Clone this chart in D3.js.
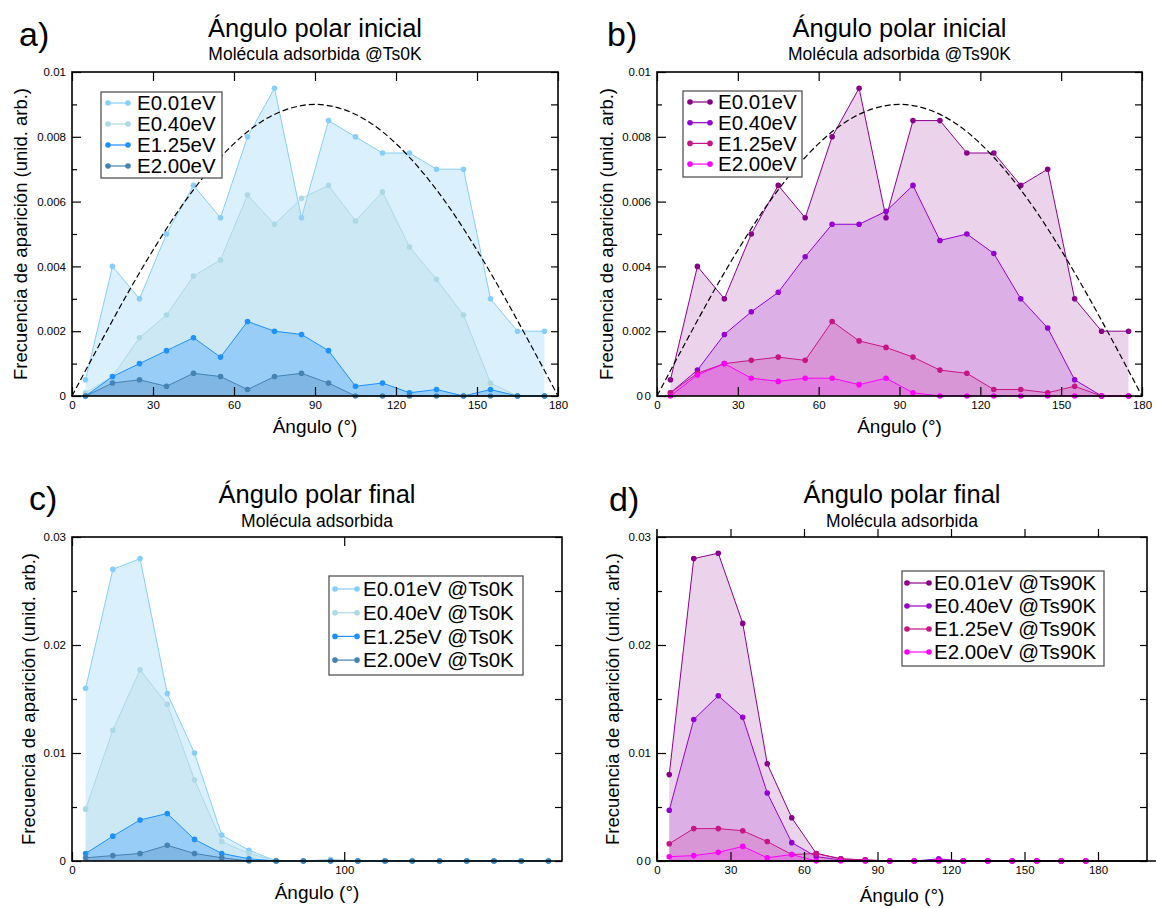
<!DOCTYPE html>
<html>
<head>
<meta charset="utf-8">
<script src="https://cdn.jsdelivr.net/npm/d3@7"></script>
<style>
  body { margin: 0; background: #fff; }
  text { font-family: "Liberation Sans", Arial, sans-serif; }
</style>
</head>
<body>
<script>
// bin centres (degrees)
const angles = [5, 15, 25, 35, 45, 55, 65, 75, 85, 95, 105, 115, 125, 135, 145, 155, 165, 175];
const energies = ["E0.01eV", "E0.40eV", "E1.25eV", "E2.00eV"];

// a) initial polar angle, Ts = 0 K
const iniTs0K_001 = [0.0005, 0.0040, 0.0030, 0.0050, 0.0065, 0.0055, 0.0080, 0.0095, 0.0055, 0.0085, 0.0080, 0.0075, 0.0075, 0.0070, 0.0070, 0.0030, 0.0020, 0.0020];
const iniTs0K_040 = [0.0001, 0.0006, 0.0018, 0.0025, 0.0037, 0.0042, 0.0062, 0.0053, 0.0061, 0.0065, 0.0054, 0.0063, 0.0046, 0.0036, 0.0025, 0.0004, 0, 0];
const iniTs0K_125 = [0, 0.0006, 0.0010, 0.0014, 0.0018, 0.0012, 0.0023, 0.0020, 0.0019, 0.0014, 0.0003, 0.0004, 0.0001, 0.0002, 0, 0.0002, 0, 0];
const iniTs0K_200 = [0, 0.0004, 0.0005, 0.0003, 0.0007, 0.0006, 0.0002, 0.0006, 0.0007, 0.0004, 0, 0, 0, 0, 0, 0, 0, 0];

// b) initial polar angle, Ts = 90 K
const iniTs90K_001 = [0.0005, 0.0040, 0.0030, 0.0050, 0.0065, 0.0055, 0.0080, 0.0095, 0.0055, 0.0085, 0.0085, 0.0075, 0.0075, 0.0065, 0.0070, 0.0030, 0.0020, 0.0020];
const iniTs90K_040 = [0.0001, 0.0008, 0.0019, 0.0026, 0.0032, 0.0043, 0.0053, 0.0053, 0.0057, 0.0065, 0.0048, 0.0050, 0.0044, 0.0030, 0.0021, 0.0005, 0, 0];
const iniTs90K_125 = [0.0001, 0.0007, 0.0010, 0.0011, 0.0012, 0.0011, 0.0023, 0.0017, 0.0015, 0.0012, 0.0008, 0.0007, 0.0002, 0.0002, 0.0001, 0.0003, 0, 0];
const iniTs90K_200 = [0, 0.00065, 0.0010, 0.00055, 0.00045, 0.00055, 0.00055, 0.00035, 0.00055, 0.0001, 0, 0, 0, 0, 0, 0, 0, 0];

// c) final polar angle, Ts = 0 K
const finTs0K_001 = [0.0160, 0.0270, 0.0280, 0.0155, 0.0100, 0.0024, 0.0010, 0, 0, 0.0001, 0, 0, 0, 0, 0, 0, 0, 0];
const finTs0K_040 = [0.0048, 0.0121, 0.0177, 0.0145, 0.0075, 0.0018, 0.0007, 0, 0, 0.00015, 0, 0, 0, 0, 0, 0, 0, 0];
const finTs0K_125 = [0.0007, 0.0023, 0.0038, 0.0044, 0.0020, 0.0007, 0.0002, 0, 0, 0, 0, 0, 0, 0, 0, 0, 0, 0];
const finTs0K_200 = [0.0003, 0.0005, 0.0007, 0.00145, 0.0007, 0.0003, 0, 0, 0, 0, 0, 0, 0, 0, 0, 0, 0, 0];

// d) final polar angle, Ts = 90 K
const finTs90K_001 = [0.0080, 0.0280, 0.0285, 0.0220, 0.0090, 0.0040, 0.0007, 0.0002, 0.0001, 0, 0, 0.0001, 0, 0, 0, 0, 0, 0];
const finTs90K_040 = [0.0047, 0.0131, 0.0153, 0.0133, 0.0063, 0.0017, 0.0004, 0.0001, 0, 0, 0, 0.0002, 0, 0, 0, 0, 0, 0];
const finTs90K_125 = [0.0016, 0.0030, 0.0030, 0.0028, 0.0018, 0.0006, 0.0007, 0.0002, 0.0001, 0, 0, 0, 0, 0, 0, 0, 0, 0];
const finTs90K_200 = [0.0004, 0.0005, 0.0008, 0.00135, 0.0003, 0.0006, 0, 0, 0, 0, 0, 0, 0, 0, 0, 0, 0, 0];

// dashed reference curve (read at every 10 degrees)
const refAngles = [0, 10, 20, 30, 40, 50, 60, 70, 80, 90, 100, 110, 120, 130, 140, 150, 160, 170, 180];
const refValues = [0, 0.00156, 0.00308, 0.0045, 0.00579, 0.00689, 0.00779, 0.00846, 0.00886, 0.009, 0.00886, 0.00846, 0.00779, 0.00689, 0.00579, 0.0045, 0.00308, 0.00156, 0];

// ticks
const iniXTicks = [0, 30, 60, 90, 120, 150, 180];
const iniYTicks = [0, 0.002, 0.004, 0.006, 0.008, 0.01];
const iniYMinor = [0.001, 0.003, 0.005, 0.007, 0.009];
const finCXTicks = [0, 100];
const finDXTicks = [0, 30, 60, 90, 120, 150, 180];
const finYTicks = [0, 0.01, 0.02, 0.03];
const finYMinor = [0.005, 0.015, 0.025];

const blues = ["#87cefa", "#add8e6", "#1e90ff", "#4682b4"];
const purples = ["#8b008b", "#9400d3", "#c71585", "#ff00ff"];

const svg = d3.select("body").append("svg")
  .attr("width", 1156)
  .attr("height", 908);

function styleAxis(sel) {
  sel.select(".domain").remove();
  sel.selectAll(".tick line").attr("stroke", "#000").attr("stroke-width", 1.2);
  sel.selectAll("text")
    .attr("font-family", "Liberation Sans, Arial, sans-serif")
    .attr("font-size", 11.5)
    .attr("fill", "#000");
}

function drawPanel(p) {
  const g = svg.append("g");
  const x = d3.scaleLinear().domain([0, p.xMax]).range([p.x0, p.x1]);
  const y = d3.scaleLinear().domain([0, p.yMax]).range([p.y1, p.y0]);

  // series: fill, line, markers
  p.series.forEach(function(s) {
    const pts = angles.map(function(a, k) { return [a, s.values[k]]; });
    g.append("path").datum(pts)
      .attr("d", d3.area().x(d => x(d[0])).y0(y(0)).y1(d => y(d[1])))
      .attr("fill", s.color)
      .attr("fill-opacity", p.alpha);
    g.append("path").datum(pts)
      .attr("d", d3.line().x(d => x(d[0])).y(d => y(d[1])))
      .attr("fill", "none")
      .attr("stroke", s.color)
      .attr("stroke-width", 1);
    g.selectAll(null).data(pts).enter().append("circle")
      .attr("cx", d => x(d[0]))
      .attr("cy", d => y(d[1]))
      .attr("r", 2.8)
      .attr("fill", s.color);
  });

  if (p.ref) {
    const rp = refAngles.map(function(a, k) { return [a, refValues[k]]; });
    g.append("path").datum(rp)
      .attr("d", d3.line().x(d => x(d[0])).y(d => y(d[1])).curve(d3.curveMonotoneX))
      .attr("fill", "none")
      .attr("stroke", "#000")
      .attr("stroke-width", 1.2)
      .attr("stroke-dasharray", "6,3");
  }

  // frame
  g.append("rect")
    .attr("x", p.x0).attr("y", p.y0)
    .attr("width", p.x1 - p.x0).attr("height", p.y1 - p.y0)
    .attr("fill", "none").attr("stroke", "#000").attr("stroke-width", 1.6);

  // axes
  g.append("g").attr("transform", `translate(0,${p.y1})`)
    .call(d3.axisBottom(x).tickValues(p.xTicks).tickSize(-9).tickSizeOuter(0).tickPadding(5))
    .call(styleAxis);
  g.append("g").attr("transform", `translate(0,${p.y0})`)
    .call(d3.axisTop(x).tickValues(p.topTicks || p.xTicks).tickSize(p.topOut ? 8 : -9).tickSizeOuter(0).tickFormat(""))
    .call(styleAxis);
  g.append("g").attr("transform", `translate(${p.x0},0)`)
    .call(d3.axisLeft(y).tickValues(p.yTicks).tickSize(-9).tickSizeOuter(0).tickPadding(6)
      .tickFormat(d => d === 0 ? "0" : String(d)))
    .call(styleAxis);
  g.append("g").attr("transform", `translate(${p.x0},0)`)
    .call(d3.axisLeft(y).tickValues(p.yMinor).tickSize(-5).tickSizeOuter(0).tickFormat(""))
    .call(styleAxis);
  g.append("g").attr("transform", `translate(${p.x1},0)`)
    .call(d3.axisRight(y).tickValues(p.yTicks.concat(p.yMinor)).tickSize(-7).tickSizeOuter(0).tickFormat(""))
    .call(styleAxis);

  if (p.doubleZero) {
    g.append("text").attr("x", p.x0 - 14).attr("y", y(0)).attr("dy", "0.32em")
      .attr("text-anchor", "end").attr("font-size", 11.5).text("0");
  }
  if (p.topOut) {
    g.append("line").attr("x1", p.x0).attr("x2", 1156).attr("y1", p.y1).attr("y2", p.y1)
      .attr("stroke", "#000").attr("stroke-width", 1.6);
    g.append("line").attr("x1", p.x0).attr("x2", p.x0).attr("y1", p.y0 - 8).attr("y2", p.y1)
      .attr("stroke", "#000").attr("stroke-width", 1.6);
  }

  // texts
  const cx = (p.x0 + p.x1) / 2;
  g.append("text").attr("x", p.letterX).attr("y", p.letterY)
    .attr("font-size", 34).text(p.letter);
  g.append("text").attr("x", cx).attr("y", p.titleY)
    .attr("text-anchor", "middle").attr("font-size", 25.5).text(p.title);
  g.append("text").attr("x", cx).attr("y", p.subY)
    .attr("text-anchor", "middle").attr("font-size", 17.5).text(p.subtitle);
  g.append("text").attr("x", cx).attr("y", p.xLabelY)
    .attr("text-anchor", "middle").attr("font-size", 19).text("Ángulo (°)");
  g.append("text")
    .attr("transform", `translate(${p.yLabelX},${(p.y0 + p.y1) / 2}) rotate(-90)`)
    .attr("text-anchor", "middle").attr("dominant-baseline", "central")
    .attr("font-size", 18.5).text("Frecuencia de aparición (unid. arb.)");

  // legend
  const L = p.legend;
  g.append("rect").attr("x", L.x).attr("y", L.y).attr("width", L.w).attr("height", L.h)
    .attr("fill", "#fff").attr("stroke", "#555").attr("stroke-width", 1.3);
  p.series.forEach(function(s, i) {
    const ry = L.y + L.first + i * L.step;
    g.append("line").attr("x1", L.s0).attr("x2", L.s1).attr("y1", ry).attr("y2", ry)
      .attr("stroke", s.color).attr("stroke-width", 1.2);
    [L.s0, L.s1].forEach(function(sx) {
      g.append("circle").attr("cx", sx).attr("cy", ry).attr("r", 2.8).attr("fill", s.color);
    });
    g.append("text").attr("x", L.tx).attr("y", ry).attr("dy", "0.36em")
      .attr("font-size", 20.5).text(energies[i] + L.suffix);
  });
}

drawPanel({
  x0: 72, x1: 558, y0: 72, y1: 396, xMax: 180, yMax: 0.01,
  xTicks: iniXTicks, yTicks: iniYTicks, yMinor: iniYMinor,
  alpha: 0.3, ref: true,
  series: [
    { values: iniTs0K_001, color: blues[0] },
    { values: iniTs0K_040, color: blues[1] },
    { values: iniTs0K_125, color: blues[2] },
    { values: iniTs0K_200, color: blues[3] }
  ],
  letter: "a)", letterX: 19, letterY: 46,
  title: "Ángulo polar inicial", titleY: 37,
  subtitle: "Molécula adsorbida @Ts0K", subY: 60,
  xLabelY: 433, yLabelX: 20,
  legend: { x: 101, y: 92, w: 121, h: 86, first: 11, step: 21, s0: 108, s1: 128, tx: 137, suffix: "" }
});

drawPanel({
  x0: 657, x1: 1142, y0: 72, y1: 396, xMax: 180, yMax: 0.01,
  xTicks: iniXTicks, yTicks: iniYTicks, yMinor: iniYMinor,
  alpha: 0.17, ref: true, doubleZero: true,
  series: [
    { values: iniTs90K_001, color: purples[0] },
    { values: iniTs90K_040, color: purples[1] },
    { values: iniTs90K_125, color: purples[2] },
    { values: iniTs90K_200, color: purples[3] }
  ],
  letter: "b)", letterX: 607, letterY: 46,
  title: "Ángulo polar inicial", titleY: 37,
  subtitle: "Molécula adsorbida @Ts90K", subY: 60,
  xLabelY: 433, yLabelX: 606,
  legend: { x: 683, y: 91, w: 119, h: 86, first: 11, step: 20.7, s0: 690, s1: 710, tx: 718, suffix: "" }
});

drawPanel({
  x0: 72, x1: 562, y0: 537, y1: 861, xMax: 180, yMax: 0.03,
  xTicks: finCXTicks, yTicks: finYTicks, yMinor: finYMinor,
  alpha: 0.3,
  series: [
    { values: finTs0K_001, color: blues[0] },
    { values: finTs0K_040, color: blues[1] },
    { values: finTs0K_125, color: blues[2] },
    { values: finTs0K_200, color: blues[3] }
  ],
  letter: "c)", letterX: 29, letterY: 510,
  title: "Ángulo polar final", titleY: 503,
  subtitle: "Molécula adsorbida", subY: 527,
  xLabelY: 899, yLabelX: 28,
  legend: { x: 329, y: 576, w: 194, h: 99, first: 13, step: 23.7, s0: 335, s1: 357, tx: 363, suffix: " @Ts0K" }
});

drawPanel({
  x0: 657, x1: 1147, y0: 537, y1: 861, xMax: 200, yMax: 0.03,
  xTicks: finDXTicks, yTicks: finYTicks, yMinor: finYMinor,
  alpha: 0.17, doubleZero: true, topOut: true,
  topTicks: [30, 60, 90, 120, 150, 180],
  series: [
    { values: finTs90K_001, color: purples[0] },
    { values: finTs90K_040, color: purples[1] },
    { values: finTs90K_125, color: purples[2] },
    { values: finTs90K_200, color: purples[3] }
  ],
  letter: "d)", letterX: 609, letterY: 511,
  title: "Ángulo polar final", titleY: 503,
  subtitle: "Molécula adsorbida", subY: 527,
  xLabelY: 902, yLabelX: 612,
  legend: { x: 902, y: 571, w: 202, h: 95, first: 12, step: 23, s0: 907, s1: 929, tx: 934, suffix: " @Ts90K" }
});
</script>
</body>
</html>
